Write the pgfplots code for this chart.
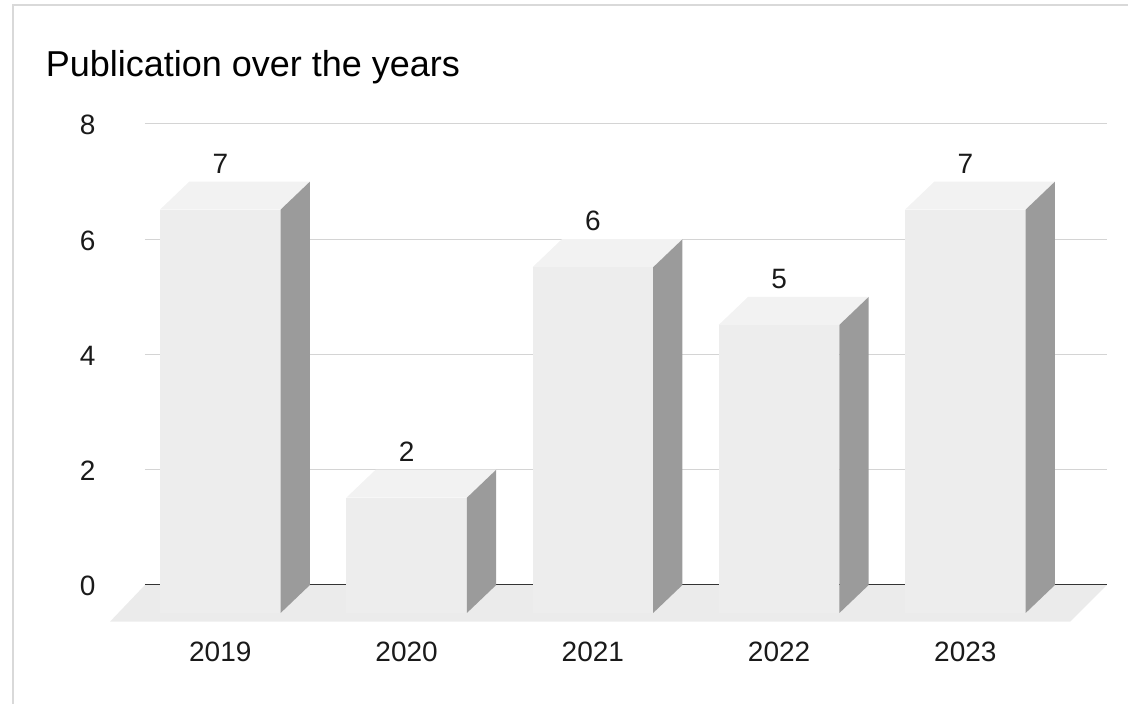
\documentclass[border=0pt]{standalone}
\usepackage{pgfplots}
\pgfplotsset{compat=1.18}
\usepackage{pgfplotstable}
\usepackage{fontspec}
\setmainfont{Liberation Sans}
\definecolor{frontc}{HTML}{EDEDED}
\definecolor{topc}{HTML}{F2F2F2}
\definecolor{sidec}{HTML}{9B9B9B}
\definecolor{floorc}{HTML}{EBEBEB}
\definecolor{gridc}{HTML}{D4D4D4}
\definecolor{zeroc}{HTML}{333333}
\definecolor{txt}{HTML}{1A1A1A}

\pgfplotstableread{
x y
0 7
1 2
2 6
3 5
4 7
}\pubdata

\def\hw{0.3238}
\def\dx{0.1574}
\def\dy{0.486}

\begin{document}
\begin{tikzpicture}
\begin{axis}[
  scale only axis, width=721.5pt, height=345.75pt,
  xmin=-0.4044, xmax=4.7605, ymin=0, ymax=8,
  clip=false,
  axis line style={draw=none},
  major tick length=0pt,
  xtick={0,1,2,3,4}, xticklabels={2019,2020,2021,2022,2023},
  ytick={0,2,4,6,8},
  ymajorgrids, grid style={gridc, line width=0.75pt},
  /pgf/number format/assume math mode=true,
  tick label style={font=\fontsize{21}{25}\selectfont, text=txt},
  xticklabel style={anchor=center, yshift=-50pt},
  yticklabel style={anchor=center, xshift=-43pt, yshift=-1pt},
]
\addplot[fill=floorc, draw=none] coordinates {(-0.5924,-0.637) (4.563,-0.637) (4.7605,0) (-0.4044,0)} -- cycle;
\addplot[zeroc, line width=0.75pt] coordinates {(-0.4044,0) (4.7605,0)};

\foreach \i/\v in {0/7,1/2,2/6,3/5,4/7}{
  \pgfmathsetmacro\xl{\i-\hw}
  \pgfmathsetmacro\xr{\i+\hw}
  \pgfmathsetmacro\xlb{\i-\hw+\dx}
  \pgfmathsetmacro\xrb{\i+\hw+\dx}
  \pgfmathsetmacro\ft{\v-\dy}
  \edef\temp{%
    \noexpand\addplot[fill=frontc, draw=none] coordinates {(\xl,-\dy) (\xr,-\dy) (\xr,\ft) (\xl,\ft)} -- cycle;
    \noexpand\addplot[fill=topc, draw=none] coordinates {(\xl,\ft) (\xr,\ft) (\xrb,\v) (\xlb,\v)} -- cycle;
    \noexpand\addplot[fill=sidec, draw=none] coordinates {(\xr,-\dy) (\xrb,0) (\xrb,\v) (\xr,\ft)} -- cycle;
  }\temp
}

\addplot[draw=none, nodes near coords,
  nodes near coords style={anchor=south, inner sep=0pt, yshift=5.8pt, font=\fontsize{21}{25}\selectfont, text=txt}]
  table[x=x, y=y]{\pubdata};

\node[anchor=base west, inner sep=0pt, font=\fontsize{27}{32}\selectfont, text=black]
  at (axis description cs:-0.1034,1.1041) {Publication over the years};

\draw[gray!30, line width=1.5pt] (axis description cs:-0.1372,-0.2581) -- (axis description cs:-0.1372,1.2581) -- (axis description cs:1.0218,1.2581);
\coordinate (BL) at (axis description cs:-0.15073,-0.25813);
\coordinate (TR) at (axis description cs:1.02183,1.26898);
\end{axis}
\pgfresetboundingbox
\useasboundingbox (BL) rectangle (TR);
\end{tikzpicture}
\end{document}
